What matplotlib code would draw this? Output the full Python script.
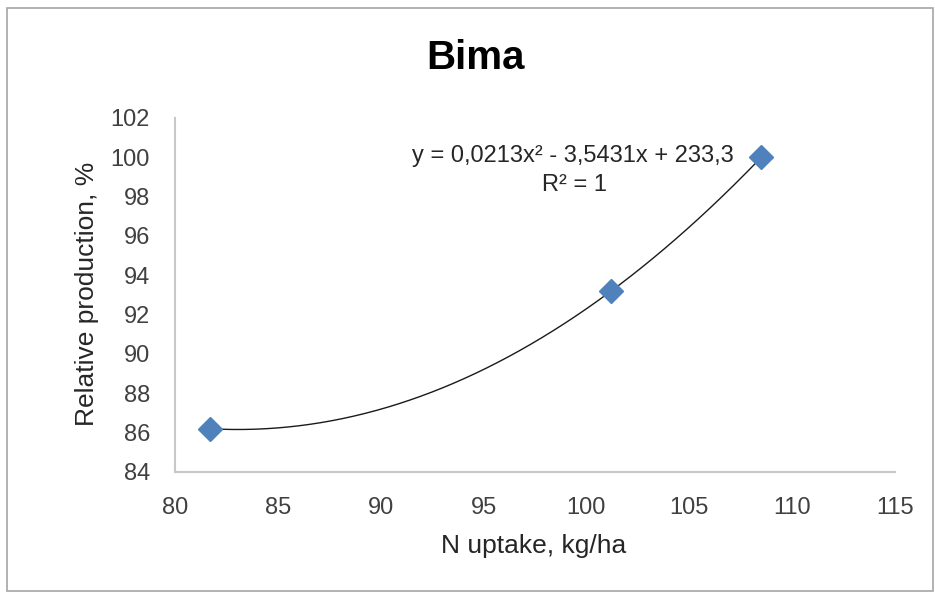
import matplotlib.pyplot as plt
import numpy as np

# data
n_uptake = [81.7, 101.2, 108.5]
rel_production = [86.2, 93.2, 100.0]
x_ticks = [80, 85, 90, 95, 100, 105, 110, 115]
y_ticks = [84, 86, 88, 90, 92, 94, 96, 98, 100, 102]
eq_line = 'y = 0,0213x² - 3,5431x + 233,3'
r2_line = 'R² = 1'

plt.rcParams['font.family'] = ['Liberation Sans', 'DejaVu Sans']

W, H = 935, 592
fig = plt.figure(figsize=(W / 100, H / 100), dpi=100)
ax = fig.add_axes([175 / W, 1 - 472 / H, 720 / W, 354 / H])

# quadratic trendline through the points
coef = np.polyfit(n_uptake, rel_production, 2)
xs = np.linspace(min(n_uptake), max(n_uptake), 200)
ax.plot(xs, np.polyval(coef, xs), color='#1a1a1a', linewidth=1.0, zorder=2)
ax.plot(n_uptake, rel_production, linestyle='none', marker='D', markersize=12.5,
        color='#4F81BD', zorder=3)

ax.set_xlim(80, 115)
ax.set_ylim(84, 102)
ax.set_xticks(x_ticks)
ax.set_yticks(y_ticks)
ax.tick_params(length=0, labelsize=17, colors='#404040')
ax.tick_params(axis='x', pad=18)
ax.tick_params(axis='y', pad=18)
for s in ['top', 'right']:
    ax.spines[s].set_visible(False)
for s in ['left', 'bottom']:
    ax.spines[s].set_color('#C8C8C8')
    ax.spines[s].set_linewidth(1.5)

fig.text(534 / W, 1 - 546 / H, 'N uptake, kg/ha', ha='center', va='center',
         fontsize=19, color='#262626')
fig.text(87 / W, 1 - 294 / H, 'Relative production, %', ha='center', va='center',
         rotation=90, fontsize=19, color='#262626')

ax.text(99.35, 100.05, eq_line, ha='center', va='center', fontsize=17,
        color='#262626')
ax.text(99.4, 98.6, r2_line, ha='center', va='center', fontsize=17,
        color='#262626')

fig.text(475 / W, 1 - 58 / H, 'Bima', ha='center', va='center', fontsize=29,
         fontweight='bold', color='black')

# outer chart border
fig.patches.append(plt.Rectangle((7 / W, 1 / H), 926 / W, 583 / H,
                                 transform=fig.transFigure, fill=False,
                                 edgecolor='#A6A6A6', linewidth=1.2))

fig.savefig('out.png', dpi=100)
